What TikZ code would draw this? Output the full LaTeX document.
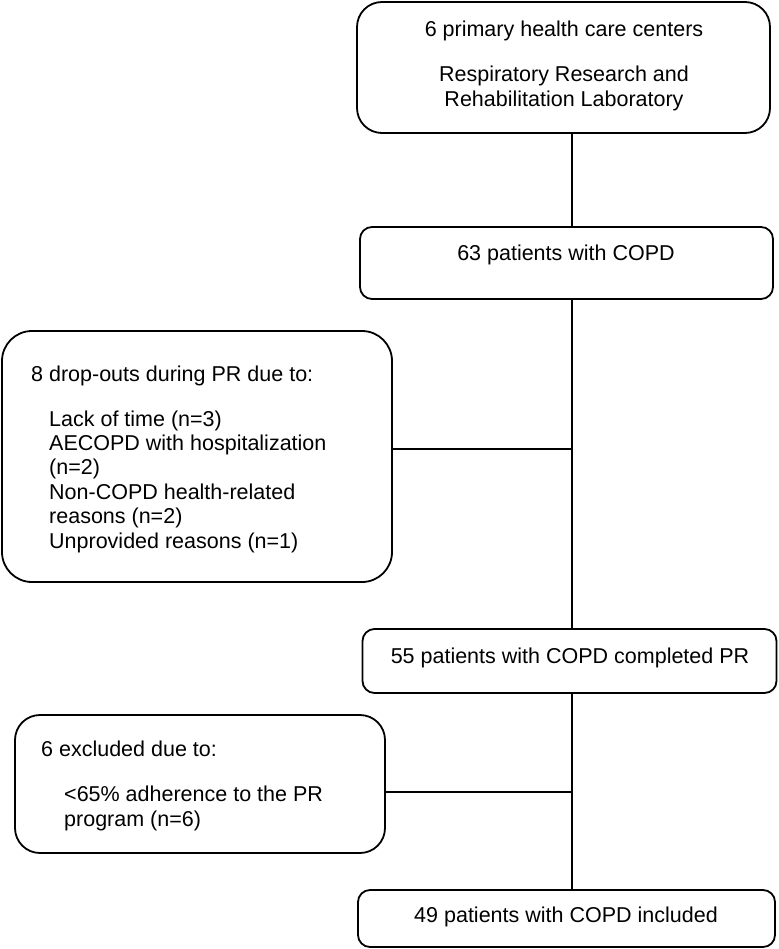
\documentclass[tikz,border=0pt]{standalone}
\usepackage{fontspec}
\setmainfont{Liberation Sans}
\begin{document}
\begin{tikzpicture}[x=1pt,y=-1pt,
  box/.style={draw,line width=1.8pt,rounded corners=#1,inner sep=0pt},
  box/.default=12pt,
  txt/.style={font=\fontsize{21.5}{24.5}\selectfont,inner sep=0pt},
  lnk/.style={line width=1.2pt}]
\useasboundingbox (0,0) rectangle (778,949);
% boxes
\node[box=25pt,minimum width=413pt,minimum height=131pt] (top) at (563.5,67.5) {};
\node[box,minimum width=413pt,minimum height=72pt] (b63) at (566.5,263) {};
\node[box=30pt,minimum width=390pt,minimum height=251pt] (drop) at (197,456.5) {};
\node[box,minimum width=414pt,minimum height=64pt] (b55) at (569.5,661) {};
\node[box=25pt,minimum width=370pt,minimum height=138pt] (excl) at (200,784) {};
\node[box,minimum width=417pt,minimum height=57pt] (b49) at (566.5,918.5) {};
% texts
\node[txt,anchor=base] (t1) at (564,37) {6 primary health care centers};
\node[txt,anchor=base] (t2a) at (564,82) {Respiratory Research and};
\node[txt,anchor=base] (t2b) at (564,107) {Rehabilitation Laboratory};
\node[txt,anchor=base] (t3) at (566,261) {63 patients with COPD};
\node[txt,anchor=base west] (t4) at (31,381) {8 drop-outs during PR due to:};
\node[txt,anchor=base west] (t5a) at (49,426) {Lack of time (n=3)};
\node[txt,anchor=base west] (t5b) at (49,450.4) {AECOPD with hospitalization};
\node[txt,anchor=base west] (t5c) at (49,474.8) {(n=2)};
\node[txt,anchor=base west] (t5d) at (49,499.2) {Non-COPD health-related};
\node[txt,anchor=base west] (t5e) at (49,523.6) {reasons (n=2)};
\node[txt,anchor=base west] (t5f) at (49,548) {Unprovided reasons (n=1)};
\node[txt,anchor=base] (t6) at (570,663) {55 patients with COPD completed PR};
\node[txt,anchor=base west] (t7) at (41,756) {6 excluded due to:};
\node[txt,anchor=base west] (t8a) at (64,801) {<65\% adherence to the PR};
\node[txt,anchor=base west] (t8b) at (64,826) {program (n=6)};
\node[txt,anchor=base] (t9) at (566,922) {49 patients with COPD included};
% connectors
\coordinate (x1) at (572,0);
\coordinate (m1) at (572,449);
\coordinate (m2) at (572,792);
\draw[lnk] (top.south -| x1) -- (b63.north -| x1);
\draw[lnk] (b63.south -| x1) -- (b55.north -| x1);
\draw[lnk] (b55.south -| x1) -- (b49.north -| x1);
\draw[lnk] (drop.east |- m1) -- (m1);
\draw[lnk] (excl.east |- m2) -- (m2);
\end{tikzpicture}
\end{document}
